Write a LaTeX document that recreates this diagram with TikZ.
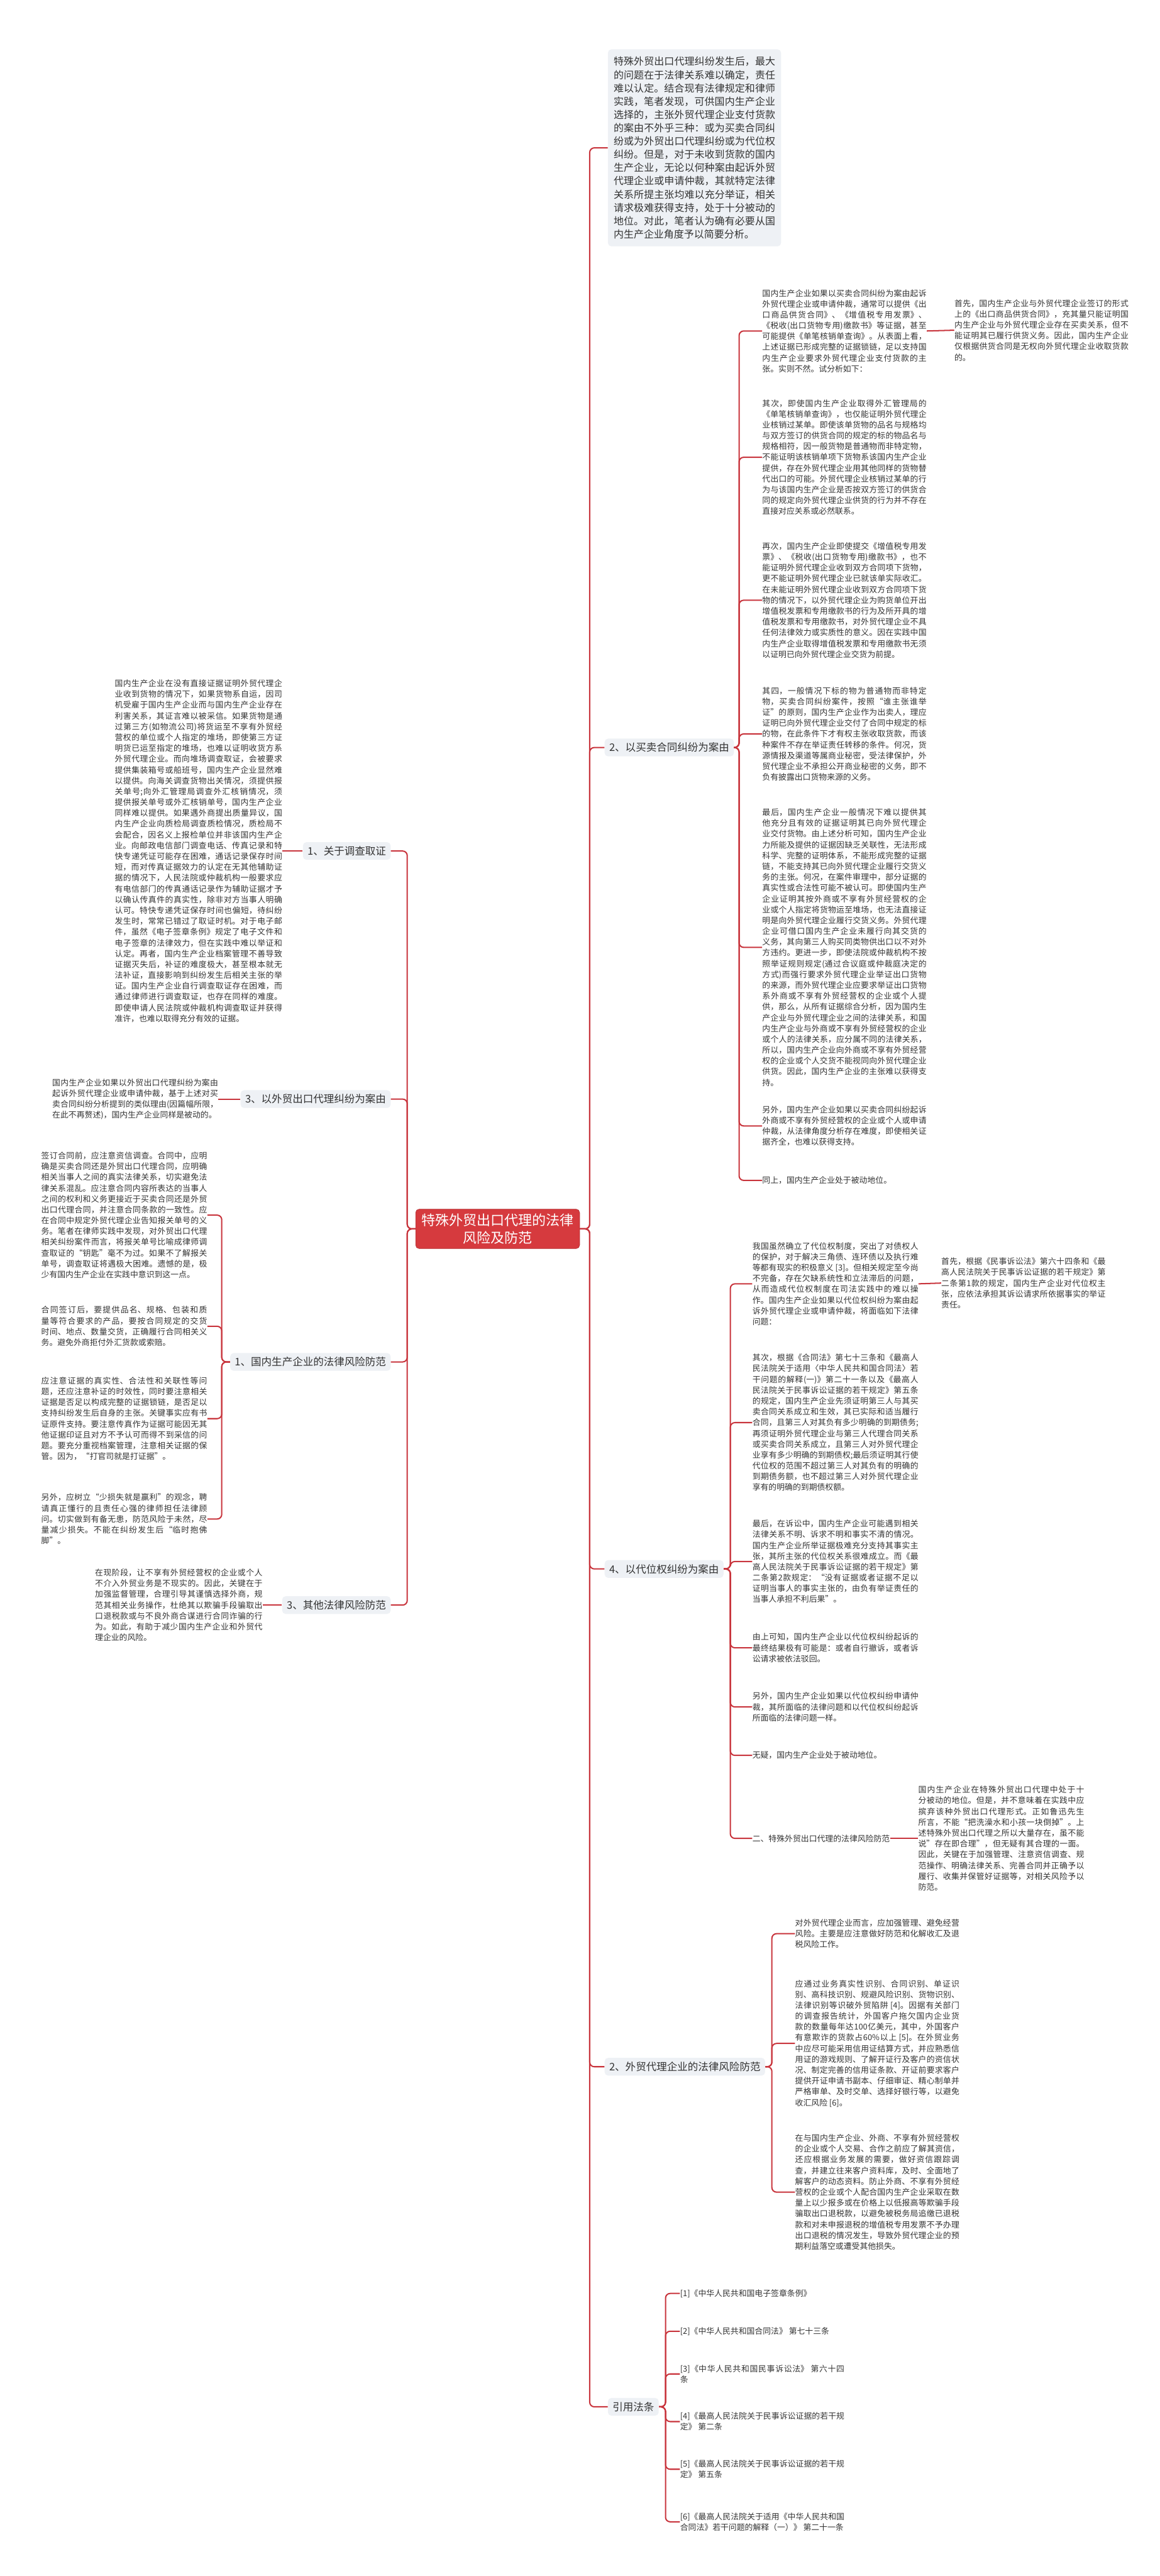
\documentclass[tikz,border=0pt]{standalone}
\usepackage{fontspec}
\setmainfont{Noto Sans CJK SC}
\XeTeXlinebreaklocale "zh"
\XeTeXlinebreakskip=0pt plus 1pt
\usetikzlibrary{positioning}
\definecolor{branch}{RGB}{200,52,60}
\definecolor{rootred}{RGB}{214,58,62}
\definecolor{boxgray}{RGB}{238,241,245}
\definecolor{ink}{RGB}{51,51,51}

\begin{document}
\begin{tikzpicture}[x=0.05cm,y=-0.05cm]

  \tikzstyle{root}=[fill=rootred,draw=rootred!85!black,rounded corners=3pt,text=white,font=\fontsize{12}{15}\selectfont,align=center,inner xsep=5pt,inner ysep=4pt]
  \tikzstyle{topic}=[fill=boxgray,rounded corners=3pt,text=ink,font=\fontsize{9}{11}\selectfont,inner xsep=4pt,inner ysep=3.5pt]
  \tikzstyle{para}=[text=ink,font=\fontsize{7}{9.36}\selectfont,align=justify,inner sep=0pt]
  \tikzstyle{link}=[draw=branch,line width=1.1pt,rounded corners=4pt]

  \useasboundingbox (0,0) rectangle (706,1568);

  \node[root] (root) at (303,748) {特殊外贸出口代理的法律\\风险及防范};

  % right side
  \node[topic,anchor=west,text width=4.92cm,align=justify,font=\fontsize{8.7}{11.5}\selectfont,inner xsep=5pt,inner ysep=6.5pt] (intro) at (370,90) {特殊外贸出口代理纠纷发生后，最大的问题在于法律关系难以确定，责任难以认定。结合现有法律规定和律师实践，笔者发现，可供国内生产企业选择的，主张外贸代理企业支付货款的案由不外乎三种：或为买卖合同纠纷或为外贸出口代理纠纷或为代位权纠纷。但是，对于未收到货款的国内生产企业，无论以何种案由起诉外贸代理企业或申请仲裁，其就特定法律关系所提主张均难以充分举证，相关请求极难获得支持，处于十分被动的地位。对此，笔者认为确有必要从国内生产企业角度予以简要分析。};
  \node[topic,anchor=west] (sale) at (368,455) {2、以买卖合同纠纷为案由};
  \node[topic,anchor=west] (subr) at (368,955) {4、以代位权纠纷为案由};
  \node[topic,anchor=west] (agent) at (368,1258) {2、外贸代理企业的法律风险防范};
  \node[topic,anchor=west] (laws) at (370,1465) {引用法条};

  \node[para,anchor=north west,text width=5cm] (s1) at (464,176) {国内生产企业如果以买卖合同纠纷为案由起诉外贸代理企业或申请仲裁，通常可以提供《出口商品供货合同》、《增值税专用发票》、《税收(出口货物专用)缴款书》等证据，甚至可能提供《单笔核销单查询》。从表面上看，上述证据已形成完整的证据锁链，足以支持国内生产企业要求外贸代理企业支付货款的主张。实则不然。试分析如下：};
  \node[para,anchor=west,text width=5.3cm] (s1a) at (581,201) {首先，国内生产企业与外贸代理企业签订的形式上的《出口商品供货合同》，充其量只能证明国内生产企业与外贸代理企业存在买卖关系，但不能证明其已履行供货义务。因此，国内生产企业仅根据供货合同是无权向外贸代理企业收取货款的。};
  \node[para,anchor=north west,text width=5cm] (s2) at (464,243) {其次，即使国内生产企业取得外汇管理局的《单笔核销单查询》，也仅能证明外贸代理企业核销过某单。即使该单货物的品名与规格均与双方签订的供货合同的规定的标的物品名与规格相符，因一般货物是普通物而非特定物，不能证明该核销单项下货物系该国内生产企业提供，存在外贸代理企业用其他同样的货物替代出口的可能。外贸代理企业核销过某单的行为与该国内生产企业是否按双方签订的供货合同的规定向外贸代理企业供货的行为并不存在直接对应关系或必然联系。};
  \node[para,anchor=north west,text width=5cm] (s3) at (464,330) {再次，国内生产企业即使提交《增值税专用发票》、《税收(出口货物专用)缴款书》，也不能证明外贸代理企业收到双方合同项下货物，更不能证明外贸代理企业已就该单实际收汇。在未能证明外贸代理企业收到双方合同项下货物的情况下，以外贸代理企业为购货单位开出增值税发票和专用缴款书的行为及所开具的增值税发票和专用缴款书，对外贸代理企业不具任何法律效力或实质性的意义。因在实践中国内生产企业取得增值税发票和专用缴款书无须以证明已向外贸代理企业交货为前提。};
  \node[para,anchor=north west,text width=5cm] (s4) at (464,418) {其四，一般情况下标的物为普通物而非特定物，买卖合同纠纷案件，按照“谁主张谁举证”的原则，国内生产企业作为出卖人，理应证明已向外贸代理企业交付了合同中规定的标的物，在此条件下才有权主张收取货款，而该种案件不存在举证责任转移的条件。何况，货源情报及渠道等属商业秘密，受法律保护，外贸代理企业不承担公开商业秘密的义务，即不负有披露出口货物来源的义务。};
  \node[para,anchor=north west,text width=5cm] (s5) at (464,492) {最后，国内生产企业一般情况下难以提供其他充分且有效的证据证明其已向外贸代理企业交付货物。由上述分析可知，国内生产企业力所能及提供的证据因缺乏关联性，无法形成科学、完整的证明体系，不能形成完整的证据链，不能支持其已向外贸代理企业履行交货义务的主张。何况，在案件审理中，部分证据的真实性或合法性可能不被认可。即使国内生产企业证明其按外商或不享有外贸经营权的企业或个人指定将货物运至堆场，也无法直接证明是向外贸代理企业履行交货义务。外贸代理企业可借口国内生产企业未履行向其交货的义务，其向第三人购买同类物供出口以不对外方违约。更进一步，即使法院或仲裁机构不按照举证规则规定(通过合议庭或仲裁庭决定的方式)而强行要求外贸代理企业举证出口货物的来源，而外贸代理企业应要求举证出口货物系外商或不享有外贸经营权的企业或个人提供，那么，从所有证据综合分析，因为国内生产企业与外贸代理企业之间的法律关系，和国内生产企业与外商或不享有外贸经营权的企业或个人的法律关系，应分属不同的法律关系，所以，国内生产企业向外商或不享有外贸经营权的企业或个人交货不能视同向外贸代理企业供货。因此，国内生产企业的主张难以获得支持。};
  \node[para,anchor=north west,text width=5cm] (s6) at (464,673) {另外，国内生产企业如果以买卖合同纠纷起诉外商或不享有外贸经营权的企业或个人或申请仲裁，从法律角度分析存在难度，即使相关证据齐全，也难以获得支持。};
  \node[para,anchor=north west,text width=5cm] (s7) at (464,716) {同上，国内生产企业处于被动地位。};

  \node[para,anchor=north west,text width=5.05cm] (c1) at (458,756) {我国虽然确立了代位权制度，突出了对债权人的保护，对于解决三角债、连环债以及执行难等都有现实的积极意义 [3]。但相关规定至今尚不完备，存在欠缺系统性和立法滞后的问题，从而造成代位权制度在司法实践中的难以操作。国内生产企业如果以代位权纠纷为案由起诉外贸代理企业或申请仲裁，将面临如下法律问题：};
  \node[para,anchor=west,text width=5cm] (c1a) at (573,781) {首先，根据《民事诉讼法》第六十四条和《最高人民法院关于民事诉讼证据的若干规定》第二条第1款的规定，国内生产企业对代位权主张，应依法承担其诉讼请求所依据事实的举证责任。};
  \node[para,anchor=north west,text width=5.05cm] (c2) at (458,824) {其次，根据《合同法》第七十三条和《最高人民法院关于适用〈中华人民共和国合同法〉若干问题的解释(一)》第二十一条以及《最高人民法院关于民事诉讼证据的若干规定》第五条的规定，国内生产企业先须证明第三人与其买卖合同关系成立和生效，其已实际和适当履行合同，且第三人对其负有多少明确的到期债务;再须证明外贸代理企业与第三人代理合同关系或买卖合同关系成立，且第三人对外贸代理企业享有多少明确的到期债权;最后须证明其行使代位权的范围不超过第三人对其负有的明确的到期债务额，也不超过第三人对外贸代理企业享有的明确的到期债权额。};
  \node[para,anchor=north west,text width=5.05cm] (c3) at (458,925) {最后，在诉讼中，国内生产企业可能遇到相关法律关系不明、诉求不明和事实不清的情况。国内生产企业所举证据极难充分支持其事实主张，其所主张的代位权关系很难成立。而《最高人民法院关于民事诉讼证据的若干规定》第二条第2款规定：“没有证据或者证据不足以证明当事人的事实主张的，由负有举证责任的当事人承担不利后果”。};
  \node[para,anchor=north west,text width=5.05cm] (c4) at (458,994) {由上可知，国内生产企业以代位权纠纷起诉的最终结果极有可能是：或者自行撤诉，或者诉讼请求被依法驳回。};
  \node[para,anchor=north west,text width=5.05cm] (c5) at (458,1030) {另外，国内生产企业如果以代位权纠纷申请仲裁，其所面临的法律问题和以代位权纠纷起诉所面临的法律问题一样。};
  \node[para,anchor=north west,text width=5.05cm] (c6) at (458,1066) {无疑，国内生产企业处于被动地位。};
  \node[para,anchor=west] (guard) at (458,1119) {二、特殊外贸出口代理的法律风险防范};
  \node[para,anchor=west,text width=5.05cm] (guardx) at (559,1119) {国内生产企业在特殊外贸出口代理中处于十分被动的地位。但是，并不意味着在实践中应摈弃该种外贸出口代理形式。正如鲁迅先生所言，不能“把洗澡水和小孩一块倒掉”。上述特殊外贸出口代理之所以大量存在，虽不能说”存在即合理”，但无疑有其合理的一面。因此，关键在于加强管理、注意资信调查、规范操作、明确法律关系、完善合同并正确予以履行、收集并保管好证据等，对相关风险予以防范。};

  \node[para,anchor=north west,text width=5cm] (a1) at (484,1168) {对外贸代理企业而言，应加强管理、避免经营风险。主要是应注意做好防范和化解收汇及退税风险工作。};
  \node[para,anchor=north west,text width=5cm] (a2) at (484,1205) {应通过业务真实性识别、合同识别、单证识别、高科技识别、规避风险识别、货物识别、法律识别等识破外贸陷阱 [4]。因据有关部门的调查报告统计，外国客户拖欠国内企业货款的数量每年达100亿美元，其中，外国客户有意欺诈的货款占60\%以上 [5]。在外贸业务中应尽可能采用信用证结算方式，并应熟悉信用证的游戏规则、了解开证行及客户的资信状况、制定完善的信用证条款、开证前要求客户提供开证申请书副本、仔细审证、精心制单并严格审单、及时交单、选择好银行等，以避免收汇风险 [6]。};
  \node[para,anchor=north west,text width=5cm] (a3) at (484,1299) {在与国内生产企业、外商、不享有外贸经营权的企业或个人交易、合作之前应了解其资信，还应根据业务发展的需要，做好资信跟踪调查，并建立往来客户资料库，及时、全面地了解客户的动态资料。防止外商、不享有外贸经营权的企业或个人配合国内生产企业采取在数量上以少报多或在价格上以低报高等欺骗手段骗取出口退税款，以避免被税务局追缴已退税款和对未申报退税的增值税专用发票不予办理出口退税的情况发生，导致外贸代理企业的预期利益落空或遭受其他损失。};

  \node[para,anchor=west,text width=5cm] (r1) at (414,1396) {[1]《中华人民共和国电子签章条例》};
  \node[para,anchor=west,text width=5cm] (r2) at (414,1419) {[2]《中华人民共和国合同法》 第七十三条};
  \node[para,anchor=west,text width=5cm] (r3) at (414,1445) {[3]《中华人民共和国民事诉讼法》 第六十四条};
  \node[para,anchor=west,text width=5cm] (r4) at (414,1474) {[4]《最高人民法院关于民事诉讼证据的若干规定》 第二条};
  \node[para,anchor=west,text width=5cm] (r5) at (414,1503) {[5]《最高人民法院关于民事诉讼证据的若干规定》 第五条};
  \node[para,anchor=west,text width=5cm] (r6) at (414,1535) {[6]《最高人民法院关于适用《中华人民共和国合同法》若干问题的解释（一）》 第二十一条};

  % left side
  \node[topic,anchor=east] (probe) at (238,518) {1、关于调查取证};
  \node[topic,anchor=east] (trade) at (238,669) {3、以外贸出口代理纠纷为案由};
  \node[topic,anchor=east] (maker) at (238,829) {1、国内生产企业的法律风险防范};
  \node[topic,anchor=east] (other) at (238,977) {3、其他法律风险防范};

  \node[para,anchor=east,text width=5.1cm] (p1) at (172,518) {国内生产企业在没有直接证据证明外贸代理企业收到货物的情况下，如果货物系自运，因司机受雇于国内生产企业而与国内生产企业存在利害关系，其证言难以被采信。如果货物是通过第三方(如物流公司)将货运至不享有外贸经营权的单位或个人指定的堆场，即使第三方证明货已运至指定的堆场，也难以证明收货方系外贸代理企业。而向堆场调查取证，会被要求提供集装箱号或船班号，国内生产企业显然难以提供。向海关调查货物出关情况，须提供报关单号;向外汇管理局调查外汇核销情况，须提供报关单号或外汇核销单号，国内生产企业同样难以提供。如果遇外商提出质量异议，国内生产企业向质检局调查质检情况，质检局不会配合，因名义上报检单位并非该国内生产企业。向邮政电信部门调查电话、传真记录和特快专递凭证可能存在困难，通话记录保存时间短，而对传真证据效力的认定在无其他辅助证据的情况下，人民法院或仲裁机构一般要求应有电信部门的传真通话记录作为辅助证据才予以确认传真件的真实性，除非对方当事人明确认可。特快专递凭证保存时间也偏短，待纠纷发生时，常常已错过了取证时机。对于电子邮件，虽然《电子签章条例》规定了电子文件和电子签章的法律效力，但在实践中难以举证和认定。再者，国内生产企业档案管理不善导致证据灭失后，补证的难度极大，甚至根本就无法补证，直接影响到纠纷发生后相关主张的举证。国内生产企业自行调查取证存在困难，而通过律师进行调查取证，也存在同样的难度。即使申请人民法院或仲裁机构调查取证并获得准许，也难以取得充分有效的证据。};
  \node[para,anchor=east,text width=5.05cm] (p2) at (133,669) {国内生产企业如果以外贸出口代理纠纷为案由起诉外贸代理企业或申请仲裁，基于上述对买卖合同纠纷分析提到的类似理由(因篇幅所限，在此不再赘述)，国内生产企业同样是被动的。};
  \node[para,anchor=north west,text width=5.05cm] (m1) at (25,701) {签订合同前，应注意资信调查。合同中，应明确是买卖合同还是外贸出口代理合同，应明确相关当事人之间的真实法律关系，切实避免法律关系混乱。应注意合同内容所表达的当事人之间的权利和义务更接近于买卖合同还是外贸出口代理合同，并注意合同条款的一致性。应在合同中规定外贸代理企业告知报关单号的义务。笔者在律师实践中发现，对外贸出口代理相关纠纷案件而言，将报关单号比喻成律师调查取证的“钥匙”毫不为过。如果不了解报关单号，调查取证将遇极大困难。遗憾的是，极少有国内生产企业在实践中意识到这一点。};
  \node[para,anchor=north west,text width=5.05cm] (m2) at (25,795) {合同签订后，要提供品名、规格、包装和质量等符合要求的产品，要按合同规定的交货时间、地点、数量交货，正确履行合同相关义务。避免外商拒付外汇货款或索赔。};
  \node[para,anchor=north west,text width=5.05cm] (m3) at (25,838) {应注意证据的真实性、合法性和关联性等问题，还应注意补证的时效性，同时要注意相关证据是否足以构成完整的证据锁链，是否足以支持纠纷发生后自身的主张。关键事实应有书证原件支持。要注意传真作为证据可能因无其他证据印证且对方不予认可而得不到采信的问题。要充分重视档案管理，注意相关证据的保管。因为，“打官司就是打证据”。};
  \node[para,anchor=north west,text width=5.05cm] (m4) at (25,909) {另外，应树立“少损失就是赢利”的观念，聘请真正懂行的且责任心强的律师担任法律顾问。切实做到有备无患，防范风险于未然，尽量减少损失。不能在纠纷发生后“临时抱佛脚”。};
  \node[para,anchor=east,text width=5.1cm] (o1) at (160,977) {在现阶段，让不享有外贸经营权的企业或个人不介入外贸业务是不现实的。因此，关键在于加强监督管理，合理引导其谨慎选择外商，规范其相关业务操作，杜绝其以欺骗手段骗取出口退税款或与不良外商合谋进行合同诈骗的行为。如此，有助于减少国内生产企业和外贸代理企业的风险。};

  % branches
  \foreach \t in {intro,sale,subr,agent,laws}
    \draw[link] (root.east) -- ++(6,0) |- (\t.west);
  \foreach \t in {probe,trade,maker,other}
    \draw[link] (root.west) -- ++(-5,0) |- (\t.east);

  \foreach \t in {s1,s2,s3,s4,s5,s6,s7}
    \draw[link] (sale.east) -- ++(3,0) |- (\t.west);
  \foreach \t in {c1,c2,c3,c4,c5,c6,guard}
    \draw[link] (subr.east) -- ++(4,0) |- (\t.west);
  \foreach \t in {a1,a2,a3}
    \draw[link] (agent.east) -- ++(4,0) |- (\t.west);
  \foreach \t in {r1,r2,r3,r4,r5,r6}
    \draw[link] (laws.east) -- ++(4,0) |- (\t.west);
  \foreach \t in {m1,m2,m3,m4}
    \draw[link] (maker.west) -- ++(-5,0) |- (\t.east);

  \draw[link] (s1.east) -- (s1a.west);
  \draw[link] (c1.east) -- (c1a.west);
  \draw[link] (guard.east) -- (guardx.west);
  \draw[link] (probe.west) -- (p1.east);
  \draw[link] (trade.west) -- (p2.east);
  \draw[link] (other.west) -- (o1.east);

\end{tikzpicture}
\end{document}
